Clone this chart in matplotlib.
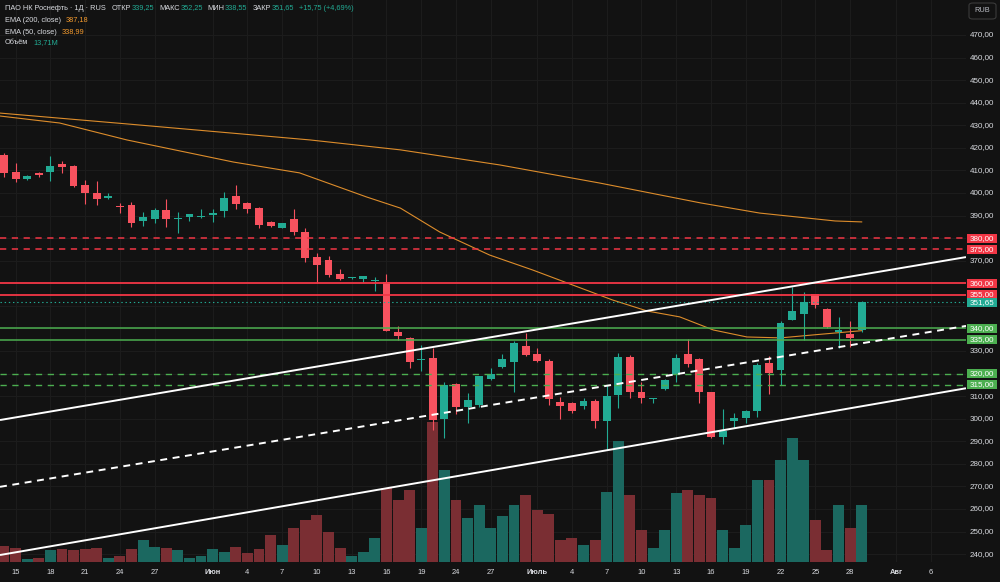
import matplotlib
matplotlib.use('Agg')
import matplotlib.pyplot as plt
import numpy as np
from matplotlib.transforms import blended_transform_factory
from matplotlib.patches import Rectangle, FancyBboxPatch

plt.rcParams['lines.scale_dashes'] = False

# ---------------- data ----------------
opens = [416.8, 409.4, 406.3, 408.7, 409.2, 412.7, 412.0, 403.5, 400.1, 397.6,
         394.4, 394.7, 387.6, 388.3, 392.5, 388.6, 389.5, 389.4, 390.4, 392.2,
         398.7, 395.4, 393.2, 387.3, 384.6, 388.3, 382.9, 371.5, 370.3, 364.1,
         362.2, 362.0, 360.9, 360.4, 338.5, 335.6, 325.8, 326.8, 299.7, 315.2,
         305.0, 306.1, 317.8, 323.1, 325.0, 332.2, 328.5, 325.7, 307.5, 306.8,
         305.8, 308.0, 299.1, 310.3, 327.5, 312.0, 308.6, 313.0, 319.4, 328.5,
         326.3, 311.7, 292.0, 299.1, 300.2, 303.5, 324.8, 321.6, 343.7, 346.2,
         355.1, 348.5, 338.6, 337.5, 339.25]
highs = [417.5, 413.4, 407.8, 409.2, 416.4, 414.2, 412.4, 405.8, 405.4, 400.1,
         395.4, 396.1, 391.4, 393.2, 397.2, 391.4, 390.8, 393.0, 392.9, 400.3,
         403.5, 396.1, 393.9, 387.5, 386.6, 392.8, 384.5, 373.3, 372.0, 366.2,
         362.6, 363.3, 362.6, 364.1, 341.0, 336.3, 332.6, 331.2, 316.4, 315.6,
         311.2, 319.0, 322.4, 328.8, 334.6, 337.8, 331.3, 326.3, 309.5, 307.3,
         309.2, 308.5, 315.0, 329.2, 328.2, 316.4, 309.2, 317.8, 328.7, 335.2,
         327.0, 312.0, 304.1, 302.4, 304.0, 324.5, 327.8, 343.4, 358.2, 356.3,
         355.3, 349.0, 345.2, 343.4, 352.25]
lows = [407.2, 405.0, 405.9, 407.2, 405.4, 408.7, 402.7, 395.0, 394.7, 397.3,
        391.3, 385.0, 385.4, 386.8, 385.0, 382.1, 387.7, 389.0, 387.0, 389.5,
        392.8, 391.3, 384.4, 385.0, 384.3, 381.4, 369.6, 360.3, 362.9, 361.5,
        362.0, 360.6, 356.7, 338.8, 334.9, 322.3, 321.3, 295.0, 291.3, 302.0,
        298.0, 305.3, 317.3, 322.6, 312.0, 327.8, 325.0, 306.0, 299.7, 302.5,
        304.5, 295.9, 286.0, 304.6, 309.0, 307.0, 306.8, 312.5, 316.4, 323.0,
        307.0, 291.5, 289.0, 295.7, 298.0, 300.7, 311.0, 314.9, 343.5, 335.0,
        349.0, 340.0, 331.2, 331.9, 338.55]
closes = [408.9, 406.0, 407.6, 407.8, 412.1, 411.6, 403.1, 399.9, 397.5, 398.7,
          393.9, 386.6, 389.5, 392.3, 388.3, 389.0, 390.8, 390.0, 391.3, 397.9,
          395.0, 392.8, 385.8, 385.4, 386.6, 382.6, 371.1, 368.1, 363.7, 361.9,
          362.6, 363.0, 361.3, 339.0, 336.8, 325.3, 326.5, 299.4, 315.0, 305.3,
          308.3, 318.9, 319.9, 326.3, 333.4, 328.2, 325.6, 308.7, 305.8, 303.4,
          307.8, 299.1, 310.0, 327.5, 312.0, 309.0, 309.2, 317.1, 326.8, 324.2,
          311.7, 292.0, 294.7, 300.2, 303.5, 323.8, 320.4, 342.5, 347.8, 351.5,
          350.4, 340.8, 339.2, 335.9, 351.65]
volumes_m = [3.85, 3.37, 0.72, 0.96, 2.89, 3.13, 2.89, 3.13, 3.37, 0.96,
             1.44, 3.13, 5.29, 3.61, 3.37, 2.89, 0.96, 1.44, 3.13, 2.41,
             3.61, 2.16, 3.13, 6.49, 4.09, 8.18, 10.1, 11.3, 7.22, 3.37,
             1.44, 2.41, 5.77, 17.8, 14.9, 17.3, 8.18, 33.7, 22.1, 14.9,
             10.6, 13.7, 8.18, 11.1, 13.7, 16.1, 12.5, 11.5, 5.29, 5.77,
             4.09, 5.29, 16.8, 29.1, 16.1, 7.7, 3.37, 7.7, 16.6, 17.3,
             16.1, 15.4, 7.7, 3.37, 8.9, 19.7, 19.7, 24.5, 29.8, 24.5,
             10.1, 2.89, 13.7, 8.18, 13.71]

tick_bars = [1, 4, 7, 10, 13, 18, 21, 24, 27, 30, 33, 36, 39, 42,
             46, 49, 52, 55, 58, 61, 64, 67, 70, 73, 77, 80]
tick_labels = ['15', '18', '21', '24', '27', 'Июн', '4', '7', '10', '13', '16', '19', '24', '27',
               'Июль', '4', '7', '10', '13', '16', '19', '22', '25', '28', 'Авг', '6']
month_names = ['Июн', 'Июль', 'Авг']

ema200_bars = [-0.35, 10.6, 26.4, 34.2, 42.8, 51.4, 60.1, 65.2, 71.7, 74]
ema200_vals = [435.4, 430.6, 423.5, 419.1, 412.4, 404.4, 395.6, 391.1, 387.6, 387.18]
ema50_bars = [-0.35, 4.8, 10.6, 19.8, 25.5, 31.3, 34.2, 37.6, 41.9, 45.6, 52.5, 55.5,
              58.3, 61.2, 64.1, 67.0, 69.8, 74]
ema50_vals = [434.1, 431.0, 423.5, 413.7, 408.9, 398.2, 393.3, 382.7, 372.5, 365.9, 352.6, 347.7,
              345.1, 339.3, 336.2, 335.8, 337.1, 338.99]

resist_solid = [360, 355]
resist_dashed = [380, 375]
support_solid = [340, 335]
support_dashed = [320, 315]

channel_upper = [(0, 299.7), (74, 363.8)]
channel_mid = [(0, 270.1), (74, 333.4)]
channel_lower = [(0, 239.9), (74, 305.5)]

price_ticks = list(range(240, 480, 10))
hidden_ticks = [380, 360, 350, 340, 320]

# ---------------- style ----------------
BG = '#121212'
GRID = '#1c1c1c'
RED = '#f7525f'
TEAL = '#22ab94'
RED_VOL = '#7a2e33'
TEAL_VOL = '#1b6860'
LVL_RED = '#f23645'
LVL_GREEN = '#4caf50'
ORANGE = '#f39a2e'
TXT = '#d9dbe0'
FONT = ['Liberation Sans', 'DejaVu Sans']

W, H = 1000, 582
fig = plt.figure(figsize=(W / 100, H / 100), dpi=100, facecolor=BG)
rect = [0, 20 / H, 966 / W, 562 / H]
axv = fig.add_axes(rect, facecolor=BG)
ax = fig.add_axes(rect, sharex=axv, facecolor='none')
for a in (ax, axv):
    for s in a.spines.values():
        s.set_visible(False)
    a.set_xticks([])
    a.set_yticks([])
    a.tick_params(left=False, bottom=False, labelleft=False, labelbottom=False)

n = len(opens)
bars = np.arange(n)
ax.set_xlim(-0.345, 83.0)
ax.set_ylim(236.5, 485.5)
axv.set_ylim(0, 135.2)

# grid
gt = blended_transform_factory(axv.transAxes, ax.transData)
for p in price_ticks:
    axv.plot([0, 1], [p, p], transform=gt, color=GRID, lw=0.8, zorder=0)
for b in tick_bars:
    axv.axvline(b, color=GRID, lw=0.8, zorder=0)

up = np.array(closes) >= np.array(opens)

# volume
axv.bar(bars, volumes_m, width=0.94, color=[TEAL_VOL if u else RED_VOL for u in up], zorder=1)

# EMA lines
ax.plot(ema200_bars, ema200_vals, color=ORANGE, lw=0.8, zorder=1.5, alpha=0.9)
ax.plot(ema50_bars, ema50_vals, color=ORANGE, lw=0.8, zorder=1.5, alpha=0.9)

# candles
for i in range(n):
    col = TEAL if up[i] else RED
    ax.vlines(i, lows[i], highs[i], color=col, lw=0.8, zorder=2)
    body = max(abs(closes[i] - opens[i]), 0.45)
    ax.bar(i, body, bottom=min(opens[i], closes[i]), width=0.68, color=col, zorder=2.1, linewidth=0)

# horizontal levels
for v in resist_solid:
    ax.axhline(v, color=LVL_RED, lw=1.3, zorder=3)
for v in resist_dashed:
    ax.axhline(v, color=LVL_RED, lw=1.1, dashes=(4.5, 4), zorder=3)
for v in support_solid:
    ax.axhline(v, color=LVL_GREEN, lw=1.1, zorder=3)
for v in support_dashed:
    ax.axhline(v, color=LVL_GREEN, lw=1.0, dashes=(4.5, 4), zorder=3)
ax.axhline(closes[-1], color=TEAL, lw=0.8, dashes=(1, 2), zorder=3)

# channel lines (extended across the view)
xl = np.array(ax.get_xlim())
for (p0, p1), style in [(channel_upper, '-'), (channel_lower, '-'), (channel_mid, '--')]:
    slope = (p1[1] - p0[1]) / (p1[0] - p0[0])
    yl = p0[1] + slope * (xl - p0[0])
    if style == '-':
        ax.plot(xl, yl, color='white', lw=1.4, zorder=4, solid_capstyle='butt')
    else:
        ax.plot(xl, yl, color='white', lw=1.4, dashes=(5, 4), zorder=4)

# right price scale
rt = blended_transform_factory(fig.transFigure, ax.transData)
for p in price_ticks:
    if p in hidden_ticks:
        continue
    ax.text(982 / W, p, f'{p},00', transform=rt, color=TXT, fontsize=5.8, family=FONT,
            va='center', ha='center', clip_on=False)

box_h = 3.9
def price_box(v, face, text):
    r = Rectangle((967 / W, v - box_h / 2), 30 / W, box_h, transform=rt, facecolor=face,
                  edgecolor='none', clip_on=False, zorder=10)
    fig.add_artist(r)
    fig.text(982 / W, v, text, transform=rt, color='white', fontsize=5.8, family=FONT,
             va='center', ha='center', zorder=11)

def fmt(v):
    return f'{v:.2f}'.replace('.', ',')

for v in resist_dashed + resist_solid:
    price_box(v, LVL_RED, fmt(v))
for v in support_solid + support_dashed:
    price_box(v, LVL_GREEN, fmt(v))
price_box(closes[-1], TEAL, fmt(closes[-1]))

# RUB box
fig.add_artist(FancyBboxPatch((969 / W, 1 - 19 / H), 27 / W, 16 / H,
                              boxstyle='round,pad=0,rounding_size=0.004',
                              transform=fig.transFigure, facecolor=BG,
                              edgecolor='#3a3a3a', lw=0.8))
fig.text(982.5 / W, 1 - 11 / H, 'RUB', color='#b8bbc2', fontsize=5.3, family=FONT,
         va='center', ha='center')

# bottom time labels
bt = blended_transform_factory(ax.transData, fig.transFigure)
for b, lab in zip(tick_bars, tick_labels):
    ax.text(b, 1 - 572 / H, lab, transform=bt, color=TXT, fontsize=5.4, family=FONT,
            va='center', ha='center', clip_on=False,
            fontweight='bold' if lab in month_names else 'normal')

# legend header
renderer = fig.canvas.get_renderer()
def row(y_px, pieces, x0=5, size=5.3):
    x = x0
    for txt, col, gap in pieces:
        t = fig.text(x / W, 1 - y_px / H, txt, color=col, fontsize=size, family=FONT,
                     va='center', ha='left')
        x += t.get_window_extent(renderer).width + gap

chg = closes[-1] - closes[-2]
pct = chg / closes[-2] * 100
row(8, [('ПАО НК Роснефть · 1Д · RUS', TXT, 6),
        ('ОТКР', TXT, 0.5), (fmt(opens[-1]), TEAL, 5),
        ('МАКС', TXT, 0.5), (fmt(highs[-1]), TEAL, 5),
        ('МИН', TXT, 0.5), (fmt(lows[-1]), TEAL, 5),
        ('ЗАКР', TXT, 0.5), (fmt(closes[-1]), TEAL, 5),
        (f'+{fmt(chg)} (+{fmt(pct)}%)', TEAL, 0)])
row(20, [('EMA (200, close)', TXT, 5), (fmt(ema200_vals[-1]), ORANGE, 0)])
row(32, [('EMA (50, close)', TXT, 5), (fmt(ema50_vals[-1]), ORANGE, 0)])
row(43, [('Объём', TXT, 5), (fmt(volumes_m[-1]) + 'M', TEAL, 0)])

fig.savefig('out.png', dpi=100, facecolor=BG)
